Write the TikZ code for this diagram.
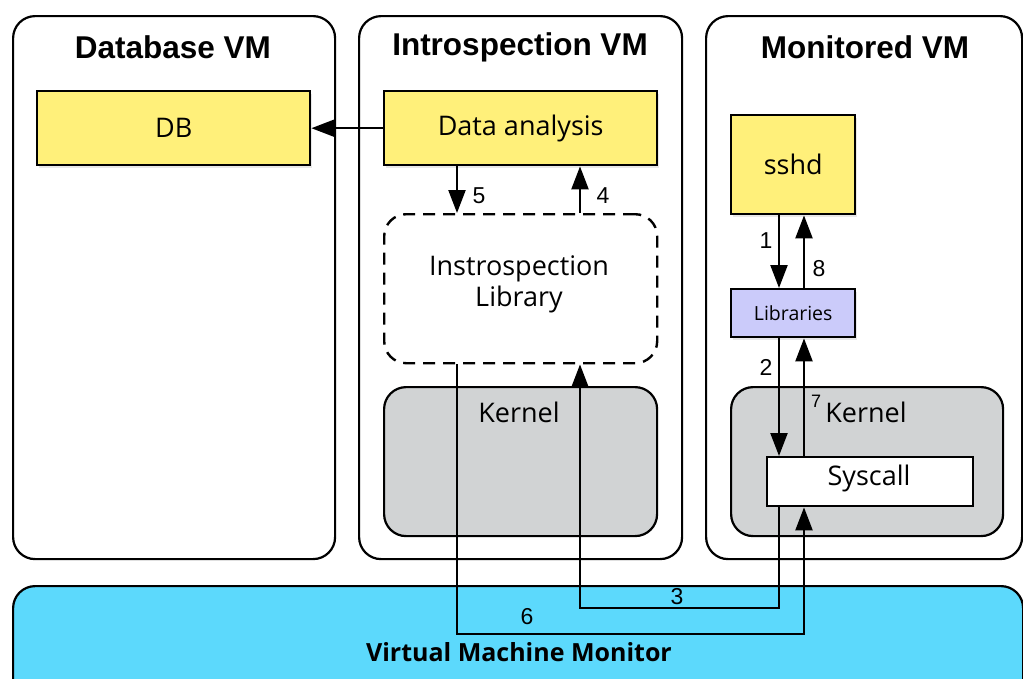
\documentclass[tikz,border=0pt]{standalone}
\usepackage{fontspec}
\setmainfont{Open Sans}
\newfontfamily\helv{Liberation Sans}
\usetikzlibrary{arrows.meta,shadows}
\definecolor{boxyellow}{HTML}{FFF07A}
\definecolor{boxlav}{HTML}{CBCBFA}
\definecolor{kgray}{HTML}{D1D3D4}
\definecolor{vmmcyan}{HTML}{5CD9FC}
\tikzset{
  vmbox/.style={draw, line width=2.2pt, rounded corners=22pt, fill=white, anchor=north west, inner sep=0pt},
  appbox/.style={draw, line width=2.4pt, fill=boxyellow, anchor=north west, inner sep=0pt,
    drop shadow={opacity=0.18, shadow xshift=2pt, shadow yshift=-3pt}},
  libbox/.style={draw, line width=2.4pt, fill=boxlav, anchor=north west, inner sep=0pt,
    drop shadow={opacity=0.18, shadow xshift=2pt, shadow yshift=-3pt}},
  kbox/.style={draw, line width=2.2pt, rounded corners=22pt, fill=kgray, anchor=north west, inner sep=0pt},
  dbox/.style={draw, line width=2.4pt, dash pattern=on 12pt off 8pt, rounded corners=22pt, anchor=north west, inner sep=0pt},
  sysbox/.style={draw, line width=2.4pt, fill=white, anchor=north west, inner sep=0pt},
  title/.style={font=\helv\bfseries\fontsize{31.5}{36}\selectfont},
  txt/.style={font=\fontsize{27}{31}\selectfont, align=center},
  num/.style={font=\helv\fontsize{23}{27}\selectfont, inner sep=0pt},
  arr/.style={line width=2.3pt, -{Triangle[length=23pt,width=17pt]}},
}
\begin{document}
\begin{tikzpicture}[x=1pt,y=-1pt]
\useasboundingbox (0,0) rectangle (1023,678);
\clip (0,0) rectangle (1023,678);
% VM containers
\node[vmbox, minimum width=322pt, minimum height=543pt] (dbvm) at (12,15) {};
\node[vmbox, minimum width=323pt, minimum height=543pt] (ivm) at (358,15) {};
\node[vmbox, minimum width=316pt, minimum height=543pt] (mvm) at (705,15) {};
\node[title] (tdb) at (173,47) {Database VM};
\node[title] (tivm) at (520,47) {Introspection VM};
\node[title] (tmvm) at (865,47) {Monitored VM};
% VMM
\node[draw, line width=2.2pt, rounded corners=22pt, fill=vmmcyan, anchor=north west, inner sep=0pt,
      minimum width=1010pt, minimum height=120pt] (vmm) at (12,585) {};
\node[font=\bfseries\fontsize{25}{30}\selectfont] (tvmm) at (519,652) {Virtual Machine Monitor};
% Introspection VM content
\node[appbox, minimum width=273pt, minimum height=74pt] (db) at (36,90) {};
\node[txt] at (db.center) {DB};
\node[appbox, minimum width=273pt, minimum height=74pt] (da) at (383,90) {};
\node[txt] at (da.center) {Data analysis};
\node[dbox, minimum width=273pt, minimum height=149pt] (il) at (383,213) {};
\node[txt] (tl) at (519,284) {Instrospection\\Library};
\node[kbox, minimum width=273pt, minimum height=149pt] (ik) at (383,386) {};
\node[txt] (tik) at (519,412) {Kernel};
% Monitored VM content
\node[appbox, minimum width=124pt, minimum height=99pt] (sshd) at (730,114) {};
\node[txt] at (sshd.center) {sshd};
\node[libbox, minimum width=124pt, minimum height=48pt] (libs) at (730,288) {};
\node at (libs.center) [font=\fontsize{19.5}{23}\selectfont] {Libraries};
\node[kbox, minimum width=272pt, minimum height=149pt] (mk) at (730,386) {};
\node[txt] (tmk) at (866,412) {Kernel};
\node[sysbox, minimum width=206pt, minimum height=49pt] (sys) at (766,456) {};
\node[txt] at (869,478) {Syscall};
% arrows
\draw[arr] (da.west) -- (db.east);
\draw[arr] (457,0 |- da.south) -- (457,0 |- il.north);
\draw[arr] (580,0 |- il.north) -- (580,0 |- da.south);
\draw[arr] (779,0 |- sshd.south) -- (779,0 |- libs.north);
\draw[arr] (804,0 |- libs.north) -- (804,0 |- sshd.south);
\draw[arr] (779,0 |- libs.south) -- (779,0 |- sys.north);
\draw[arr] (804,0 |- sys.north) -- (804,0 |- libs.south);
\draw[arr] (779,0 |- sys.south) |- (580,608) -- (580,0 |- il.south);
\draw[arr] (457,0 |- il.south) |- (804,634) -- (804,0 |- sys.south);
% numbers
\node[num] (n5) at (479,196) {5};
\node[num] (n4) at (603,196) {4};
\node[num] (n1) at (766,241) {1};
\node[num] (n8) at (819,269) {8};
\node[num] (n2) at (766,367) {2};
\node[num, font=\helv\fontsize{18}{21}\selectfont] (n7) at (816,401) {7};
\node[num] (n3) at (677,597) {3};
\node[num] (n6) at (527,617) {6};
\end{tikzpicture}
\end{document}
